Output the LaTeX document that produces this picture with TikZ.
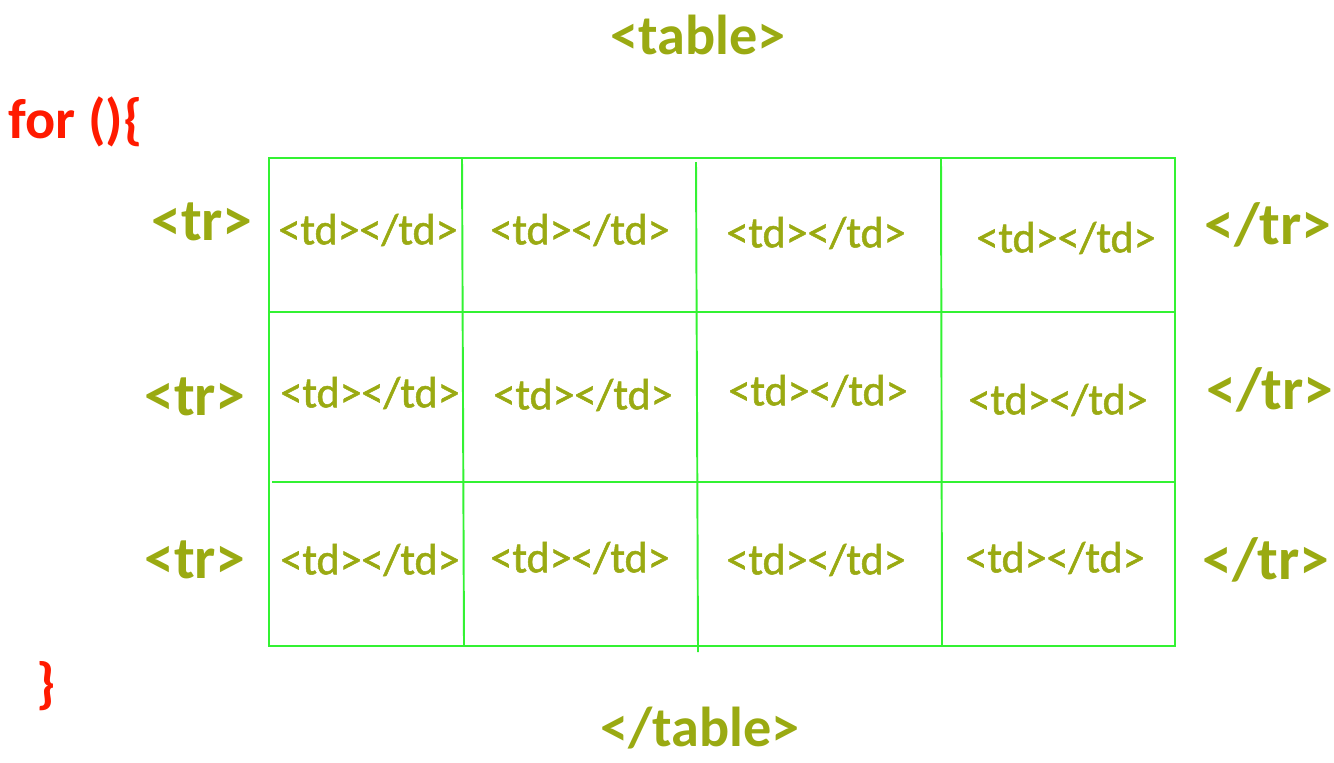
\documentclass[tikz,border=0pt]{standalone}
\usepackage{fontspec}
\setmainfont{Carlito}
\newfontfamily\cellfont{Carlito}[FakeBold=1.2]
\usepackage{xcolor}
\usetikzlibrary{positioning}
\definecolor{olive600}{HTML}{9AAA12}
\definecolor{red600}{HTML}{FF1A00}
\definecolor{lime500}{HTML}{33F233}
\tikzset{
  tag/.style={text=olive600, font=\fontsize{32}{36}\selectfont\bfseries, inner sep=0pt},
  rowtag/.style={text=olive600, font=\fontsize{34}{38}\selectfont\bfseries, inner sep=0pt},
  cell/.style={text=olive600, font=\fontsize{25}{28}\cellfont, inner sep=0pt},
  loop/.style={text=red600, font=\fontsize{32}{36}\selectfont\bfseries, inner sep=0pt},
  gridline/.style={draw=lime500, line width=1.1pt},
}

\begin{document}
\begin{tikzpicture}[x=0.02cm, y=-0.02cm]
  \useasboundingbox (0,0) rectangle (1334,762);
  % grid
  \draw[gridline] (269,158) rectangle (1175,646);
  \draw[gridline] (269,312) -- (1175,312);
  \draw[gridline] (272,482) -- (1175,482);
  \draw[gridline] (462,158) -- (464,646);
  \draw[gridline] (696,162) -- (698,652);
  \draw[gridline] (941,158) -- (942,646);
  % table tags
  \node[tag] (open) at (698,35) {<table>};
  \node[tag] (close) at (700,728) {</table>};
  % loop
  \node[loop, anchor=west] (for) at (8,122) {for ()\{};
  \node[loop] (end) at (46,686) {\}};
  % rows
  \node[rowtag] (tr1) at (202,222) {<tr>};
  \node[rowtag] (tr2) at (195,397) {<tr>};
  \node[rowtag] (tr3) at (195,560) {<tr>};
  \node[rowtag] (etr1) at (1268,225) {</tr>};
  \node[rowtag] (etr2) at (1270,390) {</tr>};
  \node[rowtag] (etr3) at (1266,560) {</tr>};
  % cells
  \node[cell] (c11) at (368,230) {<td></td>};
  \node[cell] (c12) at (580,230) {<td></td>};
  \node[cell] (c13) at (816,233) {<td></td>};
  \node[cell] (c14) at (1066,238) {<td></td>};
  \node[cell] (c21) at (370,393) {<td></td>};
  \node[cell] (c22) at (583,395) {<td></td>};
  \node[cell] (c23) at (818,391) {<td></td>};
  \node[cell] (c24) at (1058,400) {<td></td>};
  \node[cell] (c31) at (370,560) {<td></td>};
  \node[cell] (c32) at (580,558) {<td></td>};
  \node[cell] (c33) at (816,560) {<td></td>};
  \node[cell] (c34) at (1055,558) {<td></td>};
\end{tikzpicture}
\end{document}
